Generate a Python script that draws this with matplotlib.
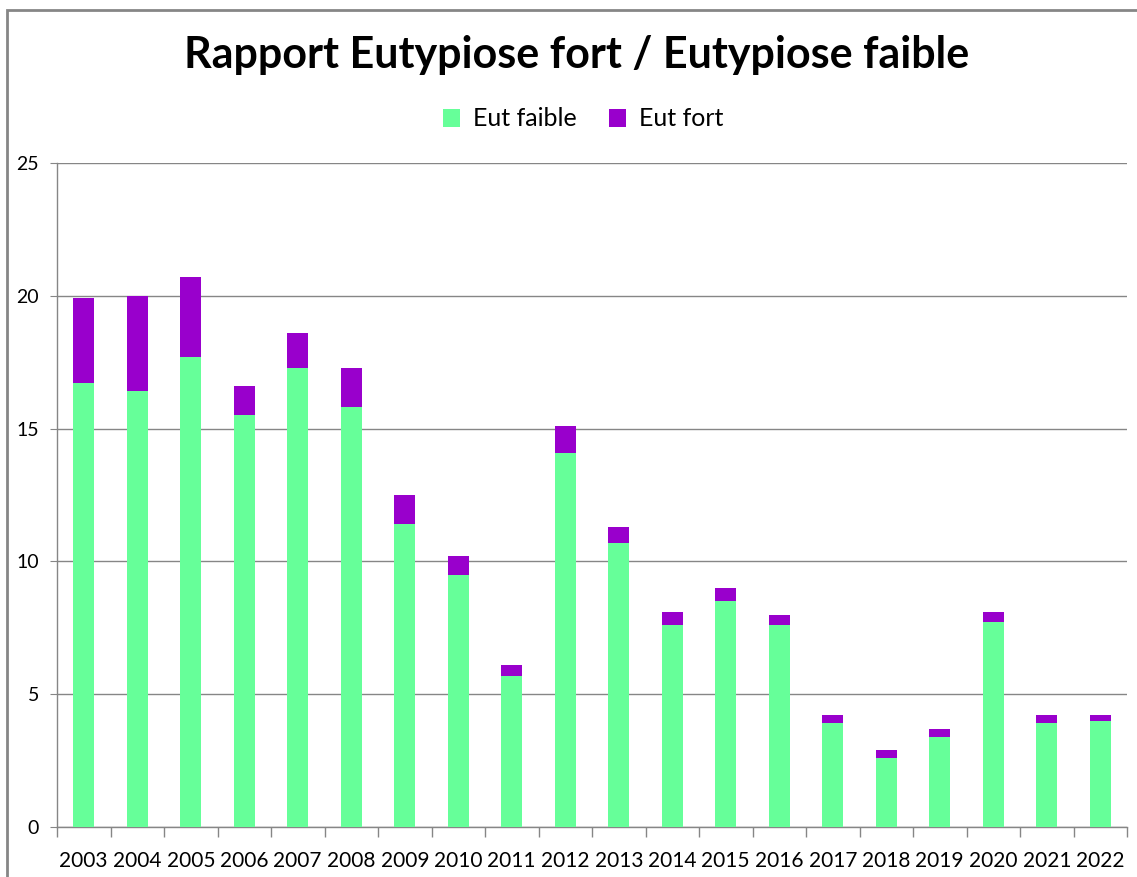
import numpy as np
import matplotlib.pyplot as plt
from matplotlib.patches import Rectangle

# Data
YEARS = [str(y) for y in range(2003, 2023)]
EUT_FAIBLE = [16.7, 16.4, 17.7, 15.5, 17.3, 15.8, 11.4, 9.5, 5.7, 14.1,
              10.7, 7.6, 8.5, 7.6, 3.9, 2.6, 3.4, 7.7, 3.9, 4.0]
EUT_TOTAL = [19.9, 20.0, 20.7, 16.6, 18.6, 17.3, 12.5, 10.2, 6.1, 15.1,
             11.3, 8.1, 9.0, 8.0, 4.2, 2.9, 3.7, 8.1, 4.2, 4.2]
EUT_FORT = [round(t - f, 2) for t, f in zip(EUT_TOTAL, EUT_FAIBLE)]

COLOR_FAIBLE = "#66FF99"
COLOR_FORT = "#9900CC"
COLOR_AXIS = "#868686"

plt.rcParams["font.family"] = ["Lato", "DejaVu Sans"]

fig = plt.figure(figsize=(11.37, 8.77), dpi=100, facecolor="white")
ax = fig.add_axes([57 / 1137, 50 / 877, 1070 / 1137, 664 / 877])

x = np.arange(len(YEARS))
ax.bar(x, EUT_FAIBLE, width=0.4, color=COLOR_FAIBLE, label="Eut faible", zorder=3)
ax.bar(x, EUT_FORT, width=0.4, bottom=EUT_FAIBLE, color=COLOR_FORT,
       label="Eut fort", zorder=3)

ax.set_xlim(-0.5, len(YEARS) - 0.5)
ax.set_ylim(0, 25)
ax.set_yticks(np.arange(0, 26, 5))
ax.yaxis.grid(True, color=COLOR_AXIS, linewidth=1, zorder=0)

ax.set_xticks(x)
ax.set_xticklabels(YEARS, fontsize=15, color="#000000")
ax.set_xticks(np.arange(-0.5, len(YEARS), 1), minor=True)
ax.tick_params(axis="x", which="major", length=0, pad=17)
ax.tick_params(axis="x", which="minor", length=7, color=COLOR_AXIS, width=1)
ax.tick_params(axis="y", length=5, color=COLOR_AXIS, labelsize=14, pad=8)

for side in ["top", "right"]:
    ax.spines[side].set_visible(False)
for side in ["left", "bottom"]:
    ax.spines[side].set_color(COLOR_AXIS)
    ax.spines[side].set_linewidth(1)

fig.text(577 / 1137, 1 - 55 / 877, "Rapport Eutypiose fort / Eutypiose faible",
         ha="center", va="center", fontsize=31, fontweight="bold")

fig.legend(loc="center", bbox_to_anchor=(583 / 1137, 1 - 119 / 877), ncol=2,
           frameon=False, fontsize=18, handlelength=0.7, handleheight=0.7,
           columnspacing=1.3, handletextpad=0.5)

# chart frame (cropped on the right and bottom in the reference)
fig.patches.append(Rectangle((7 / 1137, -0.1), 1.2, 1.1 - 10 / 877,
                             transform=fig.transFigure, fill=False,
                             edgecolor=COLOR_AXIS, linewidth=2))

fig.savefig("out.png", dpi=100)
